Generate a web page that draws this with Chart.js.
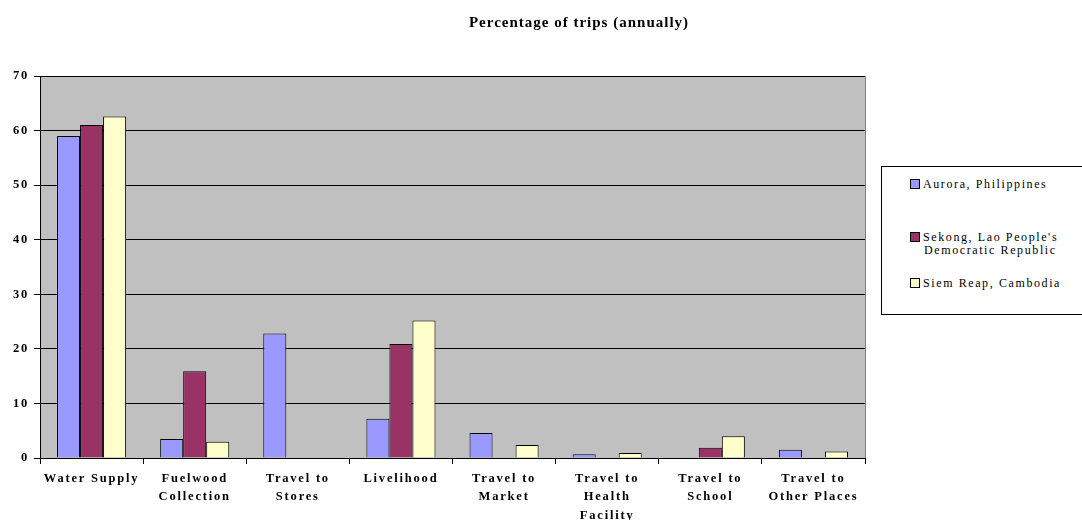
<!DOCTYPE html>
<html>
<head>
<meta charset="utf-8">
<script src="https://cdn.jsdelivr.net/npm/chart.js@4.4.1/dist/chart.umd.min.js"></script>
<style>
  html, body { margin: 0; padding: 0; background: #fff; }
  #wrap { position: relative; width: 1082px; height: 520px; overflow: hidden; }
  canvas { position: absolute; left: 0; top: 0; }
  #title { position: absolute; left: 379px; width: 400px; top: 14px; text-align: center;
    font: bold 15px "Liberation Serif", "Times New Roman", serif; letter-spacing: 1px; color: #000; }
  #legend { position: absolute; left: 881px; top: 166px; width: 210px; height: 149px;
    border: 1px solid #000; background: #fff; box-sizing: border-box; }
  .item { position: absolute; left: 41px; font: 12px "Liberation Serif", "Times New Roman", serif;
    letter-spacing: 1.6px; color: #000; line-height: 13px; white-space: nowrap; }
  .sw { position: absolute; left: -13px; top: 1px; width: 10px; height: 10px; border: 1px solid #000; box-sizing: border-box; }
</style>
</head>
<body>
<div id="wrap">
  <canvas id="c" width="1082" height="520"></canvas>
  <div id="title"></div>
  <div id="legend"></div>
</div>
<script>
const titleText = "Percentage of trips (annually)";
const categories = [
  "Water Supply",
  ["Fuelwood", "Collection"],
  ["Travel to", "Stores"],
  "Livelihood",
  ["Travel to", "Market"],
  ["Travel to", "Health", "Facility"],
  ["Travel to", "School"],
  ["Travel to", "Other Places"]
];
const seriesNames = [
  ["Aurora, Philippines"],
  ["Sekong, Lao People's", "Democratic Republic"],
  ["Siem Reap, Cambodia"]
];
const aurora = [59.0, 3.5, 22.8, 7.2, 4.6, 0.7, null, 1.5];
const sekong = [61.0, 15.9, null, 20.9, null, null, 1.9, null];
const siemReap = [62.6, 3.0, null, 25.2, 2.4, 0.9, 4.0, 1.2];
const seriesColors = ["#9999FF", "#993366", "#FFFFCC"];
const yTicks = [0, 10, 20, 30, 40, 50, 60, 70];

document.getElementById('title').textContent = titleText;

// HTML legend
const legendTops = [11, 64, 110];
const legend = document.getElementById('legend');
seriesNames.forEach((lines, i) => {
  const d = document.createElement('div');
  d.className = 'item';
  d.style.top = legendTops[i] + 'px';
  const sw = document.createElement('span');
  sw.className = 'sw';
  sw.style.background = seriesColors[i];
  d.appendChild(sw);
  lines.forEach((ln, j) => {
    const s = document.createElement('div');
    s.textContent = ln;
    if (j > 0) s.style.paddingLeft = '1px';
    d.appendChild(s);
  });
  legend.appendChild(d);
});

const FONT = '"Liberation Serif", "Times New Roman", serif';

const plotBg = {
  id: 'plotBg',
  beforeLayout(chart) { chart.ctx.letterSpacing = '1.8px'; },
  beforeDraw(chart) {
    const { ctx, chartArea: a } = chart;
    ctx.save();
    ctx.fillStyle = '#C0C0C0';
    ctx.fillRect(a.left, a.top, a.right - a.left, a.bottom - a.top);
    ctx.restore();
    ctx.letterSpacing = '1.8px';
  },
  afterDraw(chart) {
    const { ctx, chartArea: a } = chart;
    ctx.save();
    ctx.strokeStyle = '#808080';
    ctx.lineWidth = 1;
    ctx.beginPath();
    ctx.moveTo(Math.round(a.right) + 0.5, a.top);
    ctx.lineTo(Math.round(a.right) + 0.5, a.bottom);
    ctx.stroke();
    ctx.restore();
  }
};

const mk = (label, data, color) => ({
  label, data, backgroundColor: color, borderColor: '#000', borderWidth: 1,
  borderSkipped: 'start', categoryPercentage: 0.67, barPercentage: 1.0
});

new Chart(document.getElementById('c'), {
  type: 'bar',
  data: {
    labels: categories,
    datasets: [
      mk(seriesNames[0].join(' '), aurora, seriesColors[0]),
      mk(seriesNames[1].join(' '), sekong, seriesColors[1]),
      mk(seriesNames[2].join(' '), siemReap, seriesColors[2])
    ]
  },
  options: {
    responsive: false,
    animation: false,
    devicePixelRatio: 1,
    layout: { padding: { left: 0, right: 217, top: 76, bottom: 0 } },
    plugins: { legend: { display: false }, tooltip: { enabled: false }, title: { display: false } },
    scales: {
      x: {
        grid: { display: true, drawOnChartArea: false, drawTicks: true, tickLength: 6, color: '#000', offset: true },
        border: { display: true, color: '#000', width: 1 },
        ticks: { color: '#000', font: { family: FONT, size: 12.5, weight: 'bold', lineHeight: 1.45 },
          maxRotation: 0, minRotation: 0, autoSkip: false, padding: 6 },
        afterFit(s) { s.height = 62; }
      },
      y: {
        min: 0, max: 70,
        afterBuildTicks(s) { s.ticks = yTicks.map(v => ({ value: v })); },
        grid: { color: '#000', tickLength: 6, drawTicks: true },
        border: { display: true, color: '#000', width: 1 },
        ticks: { color: '#000', font: { family: FONT, size: 12.5, weight: 'bold' }, padding: 5 },
        afterFit(s) { s.width = 40; }
      }
    }
  },
  plugins: [plotBg]
});
</script>
</body>
</html>
